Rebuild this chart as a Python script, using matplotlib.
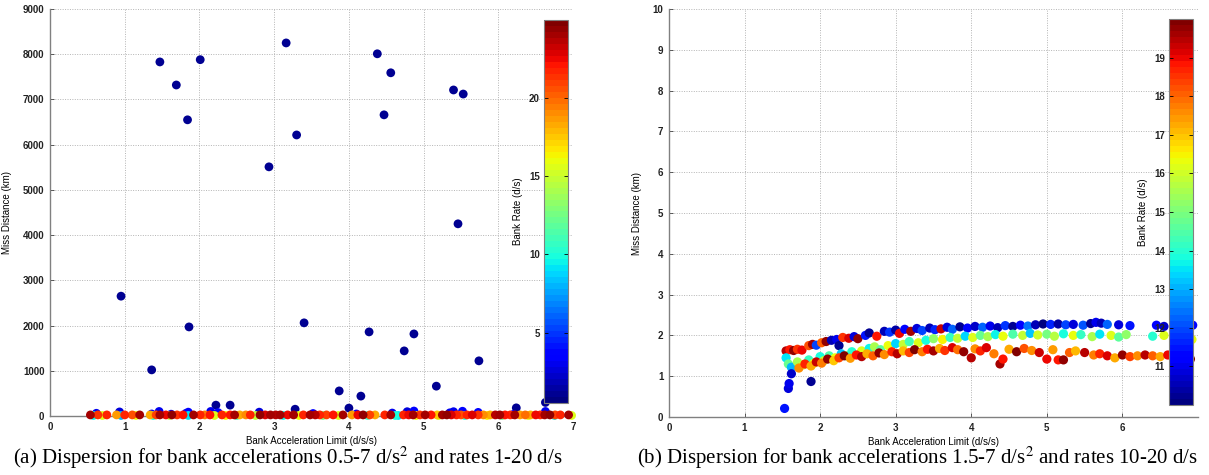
# bank_dispersion_scatter.py

import numpy as np
import matplotlib
matplotlib.use("Agg")
import matplotlib.pyplot as plt

plt.rcParams['font.family'] = ['Liberation Sans', 'DejaVu Sans']
plt.rcParams['mathtext.fontset'] = 'stix'

# ---- (a) bank accelerations 0.5-7 d/s^2, rates 1-20 d/s ----
# large miss distances (lowest bank rate)
a_far_accel = [1.47, 1.69, 1.84, 2.01, 2.93, 3.16, 3.30, 4.38, 4.56, 4.47,
               5.40, 5.53, 5.46, 3.40, 4.27, 4.87, 4.74, 5.74, 5.17, 3.87,
               4.16, 4.00, 6.24, 6.63, 0.95, 1.86, 1.36, 2.22, 2.41, 3.28]
a_far_miss = [7830, 7320, 6550, 7880, 5510, 8250, 6215, 8010, 7590, 6660,
              7210, 7120, 4250, 2060, 1860, 1815, 1440, 1220, 660, 555,
              440, 175, 180, 300, 2650, 1970, 1020, 240, 240, 150]
a_far_rate = [1.0] * len(a_far_accel)

# small offsets just above zero
a_low_accel = [0.62, 0.93, 1.36, 1.46, 1.62, 1.82, 1.85, 2.15, 2.25, 2.80, 3.52,
               4.10, 4.58, 4.78, 4.87, 5.35, 5.40, 5.52, 5.73, 6.20, 6.63]
a_low_miss = [60, 90, 45, 100, 40, 60, 85, 100, 75, 85, 55,
              45, 65, 95, 110, 70, 95, 105, 80, 35, 100]
a_low_rate = [3.0, 2.5, 3.5, 3.0, 4.0, 2.8, 3.2, 3.0, 3.6, 2.7, 3.4,
              3.8, 3.1, 2.6, 3.3, 3.0, 2.9, 3.5, 3.2, 3.7, 2.8]

# the band sitting on zero
a_zero_accel = [0.54, 0.64, 0.76, 0.89, 1.00, 1.10, 1.20, 1.34, 1.42, 1.47,
                1.55, 1.63, 1.70, 1.78, 1.92, 2.01, 2.07, 2.14, 2.30, 2.41,
                2.47, 2.54, 2.62, 2.68, 2.81, 2.88, 2.95, 3.02, 3.08, 3.18,
                3.26, 3.39, 3.48, 3.55, 3.61, 3.70, 3.79, 3.92, 4.04, 4.12,
                4.19, 4.28, 4.35, 4.48, 4.56, 4.73, 4.80, 4.86, 4.95, 5.02,
                5.10, 5.18, 5.25, 5.31, 5.37, 5.44, 5.50, 5.58, 5.65, 5.73,
                5.80, 5.89, 5.96, 6.02, 6.09, 6.16, 6.22, 6.29, 6.36, 6.43,
                6.50, 6.56, 6.62, 6.69, 6.76, 6.83, 6.94,
                0.58, 0.70, 0.95, 1.15, 1.38, 1.60, 1.85, 2.20, 2.35, 2.50,
                2.75, 3.12, 3.33, 3.65, 3.86, 4.25, 4.62, 4.66, 4.90, 5.20,
                5.55, 5.85, 6.05, 6.40, 6.75, 6.98]
a_zero_miss = [24] * 77 + [12] * 26
a_zero_rate = [24.0, 21.5, 21.8, 18.5, 21.9, 20.5, 24.2, 18.2, 21.0, 24.0,
               22.5, 24.3, 21.2, 22.0, 24.1, 21.6, 19.5, 22.2, 21.7, 22.0,
               24.0, 18.4, 19.0, 21.9, 24.3, 23.0, 24.0, 23.8, 24.2, 22.5,
               24.1, 21.7, 24.2, 23.5, 21.6, 20.8, 22.0, 24.0, 18.6, 22.5,
               24.3, 21.0, 18.3, 21.9, 24.0, 21.8, 22.6, 24.1, 21.3, 24.2,
               22.0, 17.5, 24.0, 24.3, 23.0, 21.7, 20.5, 21.9, 22.8, 21.5,
               19.0, 18.3, 23.5, 24.2, 22.0, 21.8, 24.0, 18.5, 20.0, 18.2,
               22.6, 21.6, 24.1, 24.3, 21.0, 21.7, 24.2,
               9.5, 15.5, 8.0, 16.0, 10.0, 14.5, 9.0, 15.8, 16.2, 11.0,
               15.0, 9.5, 16.0, 12.5, 15.5, 10.5, 9.8, 9.2, 16.0, 15.8,
               10.0, 16.3, 12.0, 15.6, 9.5, 15.8]

# ---- (b) bank accelerations 1.5-7 d/s^2, rates 10-20 d/s ----
b_upper_accel = [1.55, 1.60, 1.65, 1.70, 1.76, 1.85, 1.90, 1.95, 2.02, 2.08,
                 2.15, 2.22, 2.25, 2.30, 2.38, 2.45, 2.50, 2.60, 2.65, 2.75,
                 2.85, 2.92, 3.00, 3.05, 3.12, 3.20, 3.28, 3.35, 3.45, 3.52,
                 3.60, 3.68, 3.75, 3.85, 3.95, 4.05, 4.15, 4.25, 4.35, 4.45,
                 4.55, 4.65, 4.75, 4.85, 4.95, 5.05, 5.15, 5.25, 5.35, 5.48,
                 5.58, 5.65, 5.72, 5.80, 5.95, 6.10, 6.45, 6.55, 6.70, 6.85, 6.93]
b_upper_miss = [1.62, 1.65, 1.63, 1.66, 1.64, 1.75, 1.78, 1.76, 1.82, 1.85,
                1.88, 1.90, 1.75, 1.95, 1.93, 1.97, 1.92, 2.00, 2.06, 1.98,
                2.10, 2.08, 2.13, 2.05, 2.15, 2.10, 2.17, 2.12, 2.18, 2.14,
                2.16, 2.20, 2.15, 2.21, 2.18, 2.22, 2.20, 2.23, 2.19, 2.24,
                2.22, 2.25, 2.23, 2.26, 2.28, 2.27, 2.28, 2.26, 2.27, 2.25,
                2.29, 2.32, 2.30, 2.27, 2.26, 2.24, 2.25, 2.22, 2.24, 2.27, 2.25]
b_upper_rate = [19.5, 18.8, 19.8, 18.5, 19.0, 18.2, 19.6, 12.0, 18.0, 19.8,
                10.5, 11.0, 10.3, 18.5, 19.2, 10.8, 19.7, 11.5, 10.2, 18.9,
                10.6, 11.8, 10.4, 19.0, 11.2, 19.6, 10.8, 12.0, 10.5, 11.6,
                19.3, 10.9, 12.2, 10.3, 11.4, 10.7, 12.3, 11.0, 10.5, 11.8,
                10.2, 11.3, 12.4, 10.6, 10.1, 11.6, 10.4, 11.9, 10.8, 12.1,
                10.3, 11.0, 10.5, 12.2, 10.9, 11.5, 11.2, 10.7, 12.0, 10.4, 11.1]

b_middle_accel = [1.55, 1.58, 1.62, 1.70, 1.78, 1.85, 1.92, 2.00, 2.05, 2.12,
                  2.20, 2.28, 2.35, 2.42, 2.55, 2.65, 2.72, 2.80, 2.90, 3.00,
                  3.10, 3.18, 3.30, 3.40, 3.50, 3.62, 3.72, 3.82, 3.92, 4.02,
                  4.12, 4.22, 4.32, 4.42, 4.55, 4.68, 4.78, 4.88, 5.00, 5.10,
                  5.22, 5.35, 5.45, 5.60, 5.70, 5.85, 5.95, 6.05, 6.40, 6.55,
                  6.70, 6.85, 6.92]
b_middle_miss = [1.45, 1.30, 1.22, 1.35, 1.28, 1.40, 1.32, 1.48, 1.38, 1.50,
                 1.45, 1.55, 1.50, 1.60, 1.62, 1.68, 1.72, 1.65, 1.75, 1.80,
                 1.78, 1.85, 1.82, 1.88, 1.92, 1.90, 1.95, 1.93, 1.98, 1.95,
                 2.00, 1.97, 2.02, 1.98, 2.03, 2.00, 2.05, 2.01, 2.03, 1.98,
                 2.04, 2.00, 2.02, 1.97, 2.03, 2.00, 1.96, 2.02, 1.98, 2.00,
                 1.95, 2.02, 1.90]
b_middle_rate = [13.5, 14.8, 13.0, 15.5, 16.0, 14.2, 16.3, 13.8, 15.8, 14.5,
                 16.4, 13.2, 15.2, 14.0, 16.2, 13.6, 15.5, 14.6, 16.4, 13.4,
                 15.9, 14.3, 16.2, 13.9, 15.3, 16.5, 14.1, 15.8, 13.3, 16.2,
                 14.7, 15.6, 13.6, 16.4, 14.4, 15.9, 13.2, 16.0, 14.9, 15.7,
                 13.8, 16.3, 14.2, 15.5, 13.5, 16.1, 14.6, 15.2, 14.0, 16.2,
                 15.0, 13.7, 16.3]

b_lower_accel = [1.72, 1.80, 1.88, 1.95, 2.02, 2.10, 2.18, 2.25, 2.32, 2.40,
                 2.48, 2.55, 2.62, 2.70, 2.78, 2.85, 2.95, 3.02, 3.10, 3.18,
                 3.25, 3.35, 3.42, 3.50, 3.58, 3.65, 3.75, 3.82, 3.90, 4.00,
                 4.05, 4.12, 4.20, 4.30, 4.38, 4.42, 4.50, 4.60, 4.70, 4.80,
                 4.90, 5.00, 5.08, 5.15, 5.22, 5.30, 5.38, 5.50, 5.62, 5.70,
                 5.80, 5.90, 6.00, 6.10, 6.20, 6.30, 6.40, 6.50, 6.60, 6.70,
                 6.80, 6.90]
b_lower_miss = [1.20, 1.30, 1.25, 1.35, 1.32, 1.42, 1.38, 1.45, 1.50, 1.44,
                1.52, 1.48, 1.55, 1.50, 1.57, 1.53, 1.60, 1.55, 1.62, 1.58,
                1.65, 1.60, 1.66, 1.62, 1.68, 1.63, 1.70, 1.65, 1.60, 1.45,
                1.67, 1.62, 1.70, 1.55, 1.30, 1.42, 1.66, 1.60, 1.68, 1.63,
                1.58, 1.42, 1.65, 1.40, 1.40, 1.58, 1.62, 1.58, 1.52, 1.55,
                1.50, 1.45, 1.52, 1.48, 1.50, 1.52, 1.50, 1.48, 1.52, 1.45,
                1.50, 1.42]
b_lower_rate = [17.5, 18.6, 17.2, 19.3, 17.8, 19.7, 17.0, 18.4, 19.9, 17.4,
                18.9, 19.5, 17.3, 18.1, 19.8, 17.6, 18.7, 19.4, 17.1, 18.3,
                19.9, 17.7, 18.8, 19.6, 17.3, 18.5, 19.2, 17.9, 19.8, 19.4,
                17.5, 18.6, 19.1, 17.8, 19.6, 18.9, 17.2, 19.9, 18.2, 17.6,
                19.3, 19.0, 17.4, 18.8, 19.7, 18.0, 17.1, 19.5, 17.7, 18.6,
                19.2, 17.3, 19.8, 18.3, 17.5, 19.4, 18.1, 17.2, 19.0, 18.7,
                17.6, 19.9]

# short runs that fell well below the rest
b_short_accel = [1.53, 1.58, 1.59, 1.62, 1.88]
b_short_miss = [0.21, 0.70, 0.82, 1.06, 0.87]
b_short_rate = [11.5, 10.8, 11.0, 10.7, 10.2]

AXIS_FONT = 7
GRID_COLOR = '#b4b4b4'
SPINE_COLOR = '#808080'


def style_axes(ax, xticks, yticks):
    """MATLAB-like axes: dotted grid, left/bottom spines only"""
    ax.set_xticks(xticks)
    ax.set_yticks(yticks)
    ax.grid(True, linestyle=(0, (1, 1.5)), color=GRID_COLOR, linewidth=0.7)
    ax.set_axisbelow(True)
    for side in ['top', 'right']:
        ax.spines[side].set_visible(False)
    for side in ['left', 'bottom']:
        ax.spines[side].set_color(SPINE_COLOR)
        ax.spines[side].set_linewidth(1.0)
    ax.tick_params(direction='in', length=3, width=0.6, color='#404040',
                   labelsize=AXIS_FONT, pad=4)
    for lbl in ax.get_xticklabels() + ax.get_yticklabels():
        lbl.set_fontweight('bold')
        lbl.set_color('#222222')


def add_colorbar(fig, sc, rect, ticks):
    cax = fig.add_axes(rect)
    cb = fig.colorbar(sc, cax=cax, ticks=ticks)
    cb.outline.set_edgecolor('#808080')
    cb.outline.set_linewidth(0.8)
    cax.tick_params(left=True, right=True, labelleft=True, labelright=False,
                    direction='in', length=3, width=0.6, labelsize=AXIS_FONT, pad=3)
    for lbl in cax.get_yticklabels():
        lbl.set_fontweight('bold')
        lbl.set_color('#222222')
    cax.yaxis.set_label_position('left')
    cax.set_ylabel('Bank Rate (d/s)', fontsize=AXIS_FONT, labelpad=4)
    return cb


def plot_panel_a(fig, cmap):
    accel = np.array(a_far_accel + a_low_accel + a_zero_accel)
    miss = np.array(a_far_miss + a_low_miss + a_zero_miss)
    rate = np.array(a_far_rate + a_low_rate + a_zero_rate)
    order = np.argsort(rate, kind='stable')

    ax = fig.add_axes([0.0414, 0.1242, 0.4326, 0.8568])
    sc = ax.scatter(accel[order], miss[order], c=rate[order], cmap=cmap,
                    vmin=0.5, vmax=25, s=40, linewidths=0, clip_on=False, zorder=3)
    ax.set_xlim(0, 7)
    ax.set_ylim(0, 9000)
    style_axes(ax, range(8), range(0, 9001, 1000))
    ax.set_xlabel('Bank Acceleration Limit (d/s/s)', fontsize=AXIS_FONT, labelpad=3)
    ax.set_ylabel('Miss Distance (km)', fontsize=AXIS_FONT, labelpad=8)

    add_colorbar(fig, sc, [0.4500, 0.1516, 0.0199, 0.8063], [5, 10, 15, 20])
    return ax


def plot_panel_b(fig, cmap):
    accel = b_upper_accel + b_middle_accel + b_lower_accel + b_short_accel
    miss = b_upper_miss + b_middle_miss + b_lower_miss + b_short_miss
    rate = b_upper_rate + b_middle_rate + b_lower_rate + b_short_rate

    ax = fig.add_axes([0.5533, 0.1221, 0.4376, 0.8589])
    sc = ax.scatter(accel, miss, c=rate, cmap=cmap, vmin=10, vmax=20,
                    s=44, linewidths=0, zorder=3)
    ax.set_xlim(0, 7)
    ax.set_ylim(0, 10)
    style_axes(ax, range(7), range(11))
    ax.set_xlabel('Bank Acceleration Limit (d/s/s)', fontsize=AXIS_FONT, labelpad=3)
    ax.set_ylabel('Miss Distance (km)', fontsize=AXIS_FONT, labelpad=8)

    add_colorbar(fig, sc, [0.9669, 0.1474, 0.0199, 0.8126], range(11, 20))
    return ax


if __name__ == "__main__":
    fig = plt.figure(figsize=(12.09, 4.75), dpi=100)
    jet = plt.get_cmap('jet', 64)

    plot_panel_a(fig, jet)
    plot_panel_b(fig, jet)

    # sub-figure captions
    cap_font = dict(family=['Liberation Serif', 'DejaVu Serif'], fontsize=15,
                    ha='center', va='center')
    fig.text(0.238, 0.036, r'(a) Dispersion for bank accelerations 0.5-7 d/s$^2$ and rates 1-20 d/s',
             **cap_font)
    fig.text(0.759, 0.036, r'(b) Dispersion for bank accelerations 1.5-7 d/s$^2$ and rates 10-20 d/s',
             **cap_font)

    fig.savefig('out.png', dpi=100)
    plt.close(fig)
